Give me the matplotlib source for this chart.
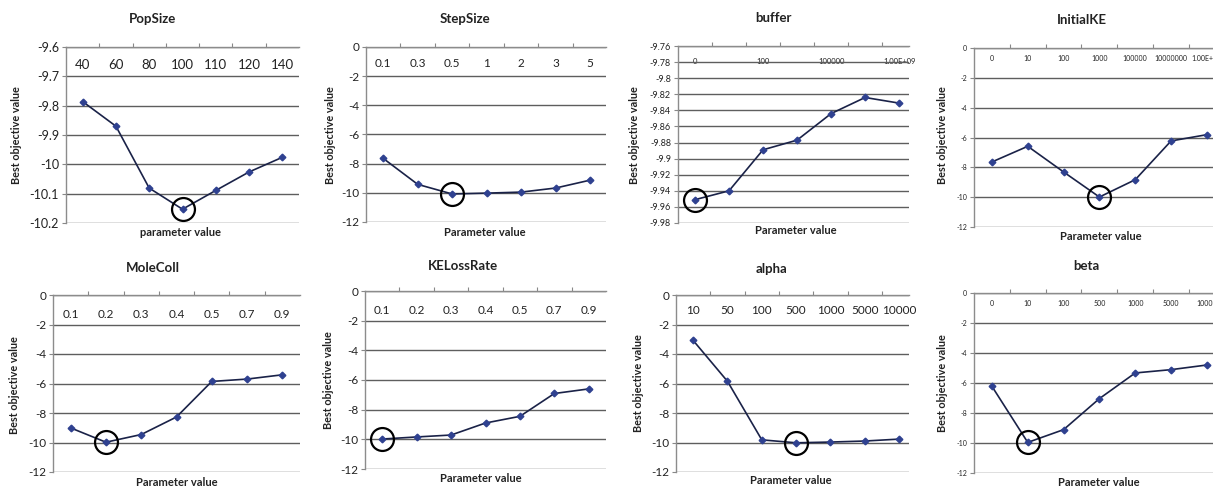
import numpy as np
import matplotlib
matplotlib.use('Agg')
import matplotlib.pyplot as plt

plt.rcParams['font.family'] = ['Lato', 'DejaVu Sans']

W, H = 1213, 487

# ---- data ----
popsize_labels = ['40', '60', '80', '100', '110', '120', '140']
popsize_vals = [-9.786, -9.870, -10.081, -10.153, -10.089, -10.026, -9.976]

stepsize_labels = ['0.1', '0.3', '0.5', '1', '2', '3', '5']
stepsize_vals = [-7.64, -9.42, -10.08, -10.02, -9.95, -9.67, -9.13]

buffer_labels = ['0', '', '100', '', '100000', '', '1.00E+09']
buffer_vals = [-9.951, -9.940, -9.889, -9.877, -9.844, -9.824, -9.831]

initke_labels = ['0', '10', '100', '1000', '100000', '10000000', '1.00E+09']
initke_vals = [-7.64, -6.59, -8.31, -9.99, -8.83, -6.23, -5.81]

molecoll_labels = ['0.1', '0.2', '0.3', '0.4', '0.5', '0.7', '0.9']
molecoll_vals = [-9.01, -9.98, -9.46, -8.27, -5.86, -5.70, -5.41]

keloss_labels = ['0.1', '0.2', '0.3', '0.4', '0.5', '0.7', '0.9']
keloss_vals = [-9.98, -9.84, -9.71, -8.90, -8.45, -6.91, -6.60]

alpha_labels = ['10', '50', '100', '500', '1000', '5000', '10000']
alpha_vals = [-3.08, -5.85, -9.82, -10.02, -9.97, -9.90, -9.77]

beta_labels = ['0', '10', '100', '500', '1000', '5000', '10000']
beta_vals = [-6.22, -9.96, -9.11, -7.04, -5.33, -5.11, -4.80]

best_idx = [3, 2, 0, 3, 1, 0, 3, 1]

fig = plt.figure(figsize=(W / 100, H / 100), dpi=100)

LINE = '#1a2248'
MARK = '#2f4190'
GRID = '#5e5e5e'


def panel(box, labels, vals, ylim, ystep, best, title, tpos, xlab, xpos, ypos,
          xmax=6.5, fs=7.5, lfs=8, lpad=17, tfs=9.5):
    l, t, r, b = box
    ax = fig.add_axes([l / W, 1 - b / H, (r - l) / W, (b - t) / H])
    x = np.arange(len(vals))
    ax.plot(x, vals, color=LINE, lw=1.2, marker='D', ms=3.4,
            mfc=MARK, mec=MARK, zorder=3)
    ax.plot(x[best], vals[best], marker='o', ms=16.5, mfc='none', mec='black',
            mew=1.6, zorder=4)
    ax.set_xlim(-0.5, xmax)
    ax.set_ylim(*ylim)
    yt = np.arange(ylim[0], ylim[1] + ystep / 2, ystep)
    ax.set_yticks(yt, [f'{round(v, 2):g}' for v in yt])
    ax.yaxis.grid(True, color=GRID, lw=1)
    ax.set_axisbelow(True)
    ax.tick_params(axis='y', length=3, width=0.8, color='#888888',
                   labelsize=fs, pad=2, colors='#222222')
    ax.xaxis.tick_top()
    ax.set_xticks(x, labels)
    ax.set_xticks(np.arange(0.5, 6.5, 1), minor=True)
    ax.tick_params(axis='x', which='major', length=0, labelsize=lfs,
                   pad=-lpad * 0.72, colors='#222222')
    ax.tick_params(axis='x', which='minor', length=3, width=0.8,
                   color='#888888', top=True, bottom=False)
    for s in ['right', 'bottom']:
        ax.spines[s].set_visible(False)
    for s in ['left', 'top']:
        ax.spines[s].set_color('#8c8c8c')
        ax.spines[s].set_linewidth(1)
    fig.text(tpos[0] / W, 1 - tpos[1] / H, title, ha='center', va='center',
             fontsize=tfs, fontweight='bold', color='#222222')
    fig.text(xpos[0] / W, 1 - xpos[1] / H, xlab, ha='center', va='center',
             fontsize=8, fontweight='bold', color='#222222')
    fig.text(ypos[0] / W, 1 - ypos[1] / H, 'Best objective value', ha='center',
             va='center', rotation=90, fontsize=7.8, fontweight='bold',
             color='#222222')
    return ax


panel((66, 47, 299, 223), popsize_labels, popsize_vals, (-10.2, -9.6), 0.1,
      best_idx[0], 'PopSize', (153, 19), 'parameter value', (180, 233),
      (17, 135), fs=9, lfs=9.5, lpad=24)
panel((366, 47, 606, 222), stepsize_labels, stepsize_vals, (-12, 0), 2,
      best_idx[1], 'StepSize', (465, 19), 'Parameter value', (485, 233),
      (330, 135), xmax=6.46, fs=8.5, lfs=8.5, lpad=22)
panel((678, 46, 909, 223), buffer_labels, buffer_vals, (-9.98, -9.76), 0.02,
      best_idx[2], 'buffer', (773, 18), 'Parameter value', (796, 230),
      (634, 135), xmax=6.29, fs=6.5, lfs=5.5, lpad=19)
panel((974, 48, 1213, 227), initke_labels, initke_vals, (-12, 0), 2,
      best_idx[3], 'InitialKE', (1082, 20), 'Parameter value', (1101, 236),
      (942, 135), xmax=6.17, fs=5, lfs=5, lpad=14)
panel((53, 295, 300, 472), molecoll_labels, molecoll_vals, (-12, 0), 2,
      best_idx[4], 'MoleColl', (153, 268), 'Parameter value', (177, 482),
      (15, 385), fs=8.5, lfs=8.5, lpad=25)
panel((365, 291, 606, 469), keloss_labels, keloss_vals, (-12, 0), 2,
      best_idx[5], 'KELossRate', (463, 266), 'Parameter value', (481, 479),
      (328, 380), fs=8.5, lfs=8.5, lpad=25)
panel((676, 295, 909, 472), alpha_labels, alpha_vals, (-12, 0), 2,
      best_idx[6], 'alpha', (772, 269), 'Parameter value', (791, 481),
      (638, 383), xmax=6.29, fs=8.5, lfs=8.5, lpad=21)
panel((974, 293, 1213, 473), beta_labels, beta_vals, (-12, 0), 2,
      best_idx[7], 'beta', (1086, 266), 'Parameter value', (1099, 482),
      (942, 383), xmax=6.17, fs=5, lfs=5, lpad=14)

fig.savefig('out.png', dpi=100)
